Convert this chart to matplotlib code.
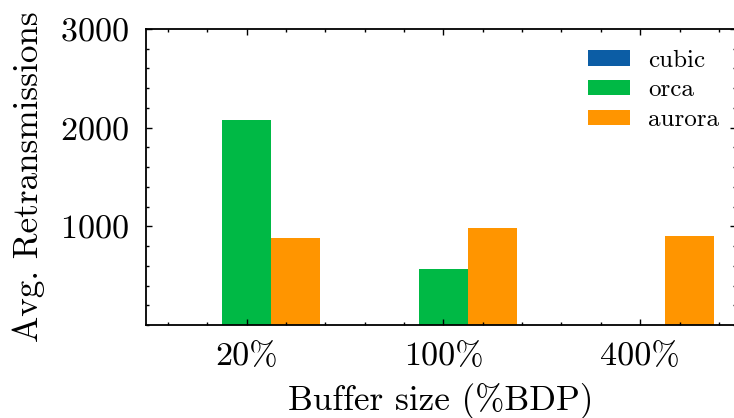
import numpy as np
import matplotlib
matplotlib.use("Agg")
import matplotlib.pyplot as plt
from matplotlib.ticker import MultipleLocator

# Average retransmissions per buffer size
buffer_sizes = ["20%", "100%", "400%"]
cubic = [0, 0, 0]
orca = [2080, 565, 0]
aurora = [880, 980, 902]

series_names = ["cubic", "orca", "aurora"]
series_colors = ["#0C5DA5", "#00B945", "#FF9500"]

plt.rcParams["font.family"] = "serif"
plt.rcParams["font.serif"] = ["cmr10"]
plt.rcParams["mathtext.fontset"] = "cm"
plt.rcParams["axes.unicode_minus"] = False
plt.rcParams["axes.formatter.use_mathtext"] = True

fig = plt.figure(figsize=(7.34, 4.18), dpi=100)
ax = fig.add_axes([0.1985, 0.2225, 0.8042, 0.7081])

x = np.arange(len(buffer_sizes))
width = 0.25
for i, (vals, name, color) in enumerate(zip([cubic, orca, aurora], series_names, series_colors)):
    ax.bar(x + (i - 1) * width, vals, width, color=color, label=name, linewidth=0)

ax.set_xlim(-0.513, 2.487)
ax.set_ylim(0, 3000)
ax.set_xticks(x)
ax.set_xticklabels(buffer_sizes)
ax.set_yticks([1000, 2000, 3000])
ax.xaxis.set_minor_locator(MultipleLocator(0.2))
ax.yaxis.set_minor_locator(MultipleLocator(200))

ax.tick_params(which="both", direction="in", top=True, right=True, labelsize=24.5, width=1.0)
ax.tick_params(which="major", length=4, pad=12)
ax.tick_params(which="minor", length=2)
for s in ax.spines.values():
    s.set_linewidth(1.3)

ax.set_xlabel("Buffer size (%BDP)", fontsize=25.3, labelpad=9)
ax.set_ylabel("Avg. Retransmissions", fontsize=25.3, labelpad=11)

ax.legend(loc="upper left", bbox_to_anchor=(0.711, 1.006), frameon=False, fontsize=18,
          handlelength=1.7, handleheight=0.55, labelspacing=0.3, handletextpad=0.7)

fig.savefig("out.png", dpi=100)
